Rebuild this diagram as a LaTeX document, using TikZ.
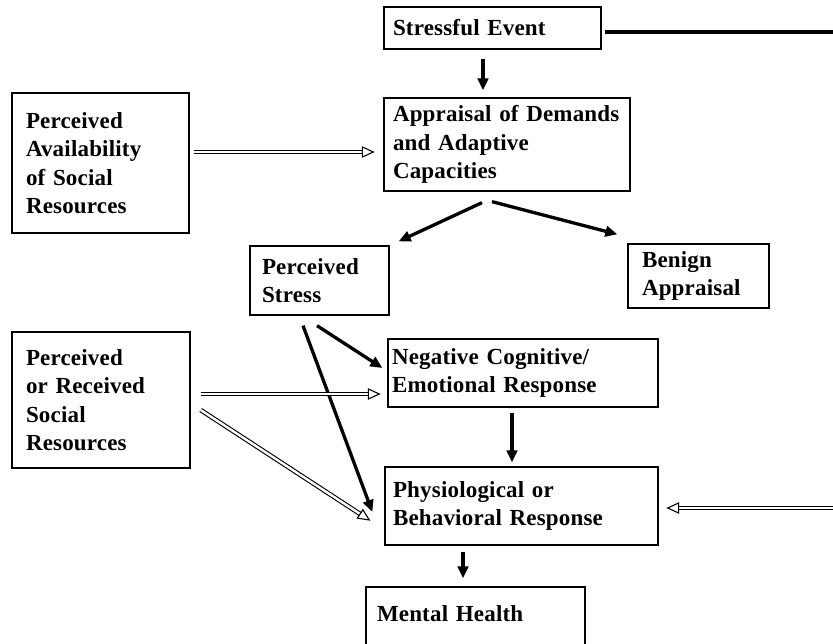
\documentclass[tikz,border=0pt]{standalone}
\usepackage{fontspec}
\setmainfont{Liberation Serif}[LetterSpace=0.8]
\usetikzlibrary{arrows.meta,decorations.markings,calc}
\tikzset{
  box/.style={draw, line width=1.3pt, align=left, inner ysep=0pt,
    font=\fontsize{23}{28.5}\selectfont\bfseries},
  thk/.style={line width=3.3pt, -{Triangle[length=12pt,width=10.5pt]}},
  plainthk/.style={line width=3.2pt},
  dbl/.style={double=white, double distance=2.4pt, line width=1.1pt, shorten >=6pt,
    postaction={decorate, decoration={markings, mark=at position 1 with {
      \draw[line width=1.1pt, fill=white, shorten >=0pt, shorten <=0pt, double=none]
        (-11pt,5pt) -- (0pt,0pt) -- (-11pt,-5pt) -- cycle;}}}}
}
\begin{document}
\begin{tikzpicture}[x=1pt,y=-1pt]
\fill[white] (0,0) rectangle (833,644);
\path[use as bounding box, clip] (0,0) rectangle (833,644);

\node[box, minimum width=217pt, minimum height=42pt, text width=199pt, inner xsep=9pt] (SE) at (492.5,28) {Stressful Event};
\node[box, minimum width=246pt, minimum height=93pt, text width=228pt, inner xsep=9pt] (App) at (507,144.5) {Appraisal of Demands\\and Adaptive\\Capacities};
\node[box, minimum width=177pt, minimum height=140pt, text width=149pt, inner xsep=14pt] (PA) at (100.5,163) {Perceived\\Availability\\of Social\\Resources};
\node[box, minimum width=139pt, minimum height=69pt, text width=115pt, inner xsep=12pt] (PS) at (319.5,280.5) {Perceived\\Stress};
\node[box, minimum width=141pt, minimum height=64pt, text width=113pt, inner xsep=14pt] (BA) at (698.5,276) {Benign\\Appraisal};
\node[box, minimum width=270pt, minimum height=68pt, text width=262pt, inner xsep=4pt] (NC) at (523,373) {Negative Cognitive/\\Emotional Response};
\node[box, minimum width=178pt, minimum height=136pt, text width=150pt, inner xsep=14pt] (PR) at (101,400) {Perceived\\or Received\\Social\\Resources};
\node[box, minimum width=273pt, minimum height=78pt, text width=257pt, inner xsep=8pt] (PH) at (521.5,506) {Physiological or\\Behavioral Response};
\node[box, minimum width=219pt, minimum height=78pt, text width=197pt, inner xsep=11pt] (MH) at (475.5,626) {Mental Health\rule[-24pt]{0pt}{0pt}};

\coordinate (rt1) at (845,32);
\coordinate (rt2) at (845,508);

\draw[plainthk] ($(SE.east)+(3,4)$) -- (rt1);
\draw[thk] ($(SE.south)+(-9.5,9)$) -- ($(App.north)+(-24,-7)$);
\draw[thk] ($(App.south)+(-25,11)$) -- ($(PS.north east)+(9,-4)$);
\draw[thk] ($(App.south)+(-15,10)$) -- ($(BA.north west)+(-10,-9)$);
\draw[dbl] ($(PA.east)+(4,-11)$) -- ($(App.west)+(-10,7.5)$);
\draw[thk] ($(PS.south)+(-2.5,10)$) -- ($(NC.west)+(-5,-5)$);
\draw[thk] ($(PS.south)+(-16.5,10)$) -- ($(PH.west)+(-12,6)$);
\draw[dbl] ($(PR.east)+(10,-6)$) -- ($(NC.west)+(-8,21)$);
\draw[dbl] ($(PR.east)+(10,10)$) -- ($(PH.west)+(-15,14)$);
\draw[thk] ($(NC.south)+(-11,5)$) -- ($(PH.north)+(-9.5,-4)$);
\draw[dbl] (rt2) -- ($(PH.east)+(9,2)$);
\draw[thk] ($(PH.south)+(-58.5,6)$) -- ($(MH.north)+(-12.5,-8)$);
\end{tikzpicture}
\end{document}
